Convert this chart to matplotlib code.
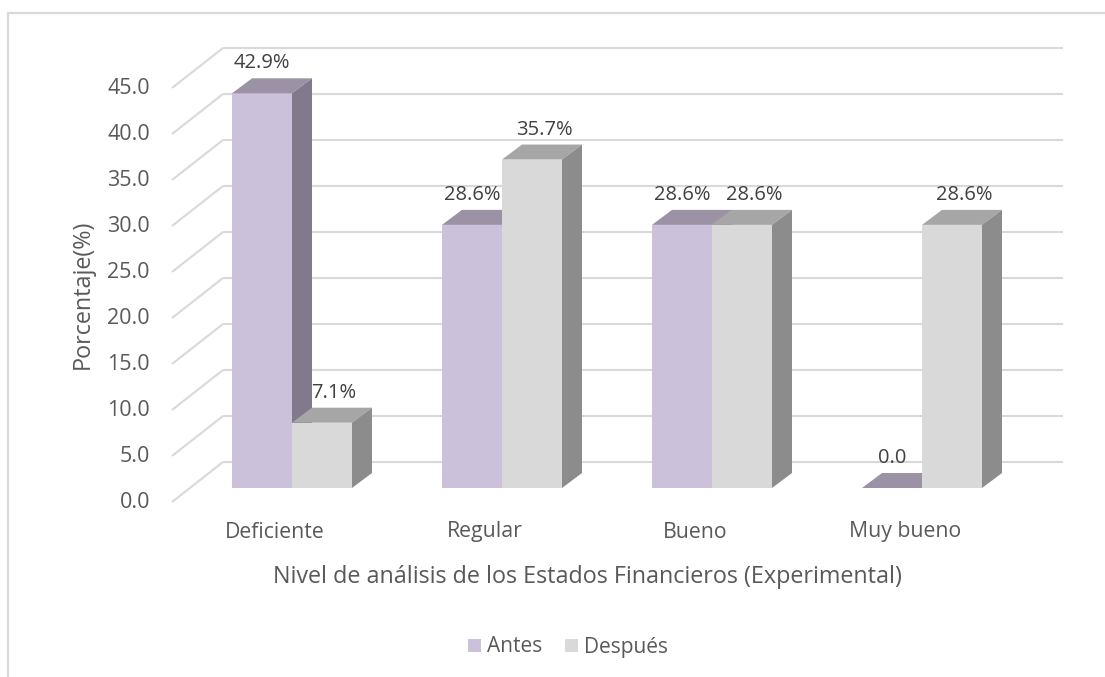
#!/usr/bin/env python3

import matplotlib.pyplot as plt
import numpy as np
from matplotlib.patches import Polygon, Rectangle

plt.rcParams['font.family'] = ['Open Sans', 'DejaVu Sans']

categorias = ["Deficiente", "Regular", "Bueno", "Muy bueno"]
series     = ["Antes", "Después"]
antes      = [42.9, 28.6, 28.6, 0.0]
despues    = [7.1, 35.7, 28.6, 28.6]
etiq_antes   = ["42.9%", "28.6%", "28.6%", "0.0"]
etiq_despues = ["7.1%", "35.7%", "28.6%", "28.6%"]
ticks      = np.arange(0, 50, 5)

# pixel scale of the 3D-ish frame (category step, value unit)
PX_X = 1.0 / 210
PX_Y = 1.0 / 9.2

colFront = ["#ccc1da", "#d9d9d9"]
colTop   = ["#9c92a6", "#a6a6a6"]
colSide  = ["#807a8c", "#8c8c8c"]
colGrid  = "#d9d9d9"
colText  = "#595959"
labShift = [0, 12]   # px, data label shift per series

W, H = 1105, 677
fig = plt.figure(figsize=(W/100, H/100), dpi=100)

# frame of the chart area (cut at right and bottom)
fig.patches.append(Rectangle((8/W, -0.1), 1.2, 1.1 - 13/H, transform=fig.transFigure,
                             fill=False, edgecolor=colGrid, linewidth=1.6))

# axes: x in category units (0 = first category), y in value units
x0px, x1px, y0px, y1px = 150, 1080, 30, 520
ax = fig.add_axes([x0px/W, 1 - y1px/H, (x1px - x0px)/W, (y1px - y0px)/H])
ax.set_xlim((x0px - 292) * PX_X, (x1px - 292) * PX_X)
ax.set_ylim((488 - y1px) * PX_Y, (488 - y0px) * PX_Y)
ax.axis("off")

# back wall and side wall gridlines
wallFront = (172 - 292) * PX_X
wallBack  = (223 - 292) * PX_X
wallRight = (1063 - 292) * PX_X
dyFront = -14 * PX_Y
dyBack  = 26 * PX_Y
for t in ticks:
    ax.plot([wallBack, wallRight], [t + dyBack, t + dyBack], color=colGrid, lw=1.5,
            zorder=1, solid_capstyle="butt")
    ax.plot([wallFront, wallBack], [t + dyFront, t + dyBack], color=colGrid, lw=1.5,
            zorder=1, solid_capstyle="butt")
    ax.text(wallFront - 22 * PX_X, t + dyFront, "%.1f" % t, ha="right", va="center",
            fontsize=15.5, color=colText)

# bars with depth
bw = 60 * PX_X
ddx, ddy = 20 * PX_X, 15 * PX_Y
xs = np.arange(len(categorias))
for s, (vals, labs) in enumerate([(antes, etiq_antes), (despues, etiq_despues)]):
    left = xs + (s - 1) * bw
    ax.bar(left, vals, width=bw, align="edge", color=colFront[s], zorder=3 + s,
           linewidth=0, label=series[s])
    for xl, v, lab in zip(left, vals, labs):
        xr = xl + bw
        ax.add_patch(Polygon([(xl, v), (xr, v), (xr + ddx, v + ddy), (xl + ddx, v + ddy)],
                             closed=True, facecolor=colTop[s], edgecolor="none", zorder=3 + s))
        if v > 0:
            ax.add_patch(Polygon([(xr, 0), (xr, v), (xr + ddx, v + ddy), (xr + ddx, ddy)],
                                 closed=True, facecolor=colSide[s], edgecolor="none",
                                 zorder=3 + s))
        ax.text(xl + bw/2 + labShift[s] * PX_X, v + ddy + 15 * PX_Y, lab, ha="center",
                va="center", fontsize=14.5, color="#404040", zorder=10)

# category labels
for x, c in zip(xs, categorias):
    ax.text(x - 17 * PX_X, -44 * PX_Y, c, ha="center", va="center", fontsize=15.3,
            color=colText)

fig.text(587/W, 1 - 577/H, "Nivel de análisis de los Estados Financieros (Experimental)",
         ha="center", va="center", fontsize=16.8, color=colText)
fig.text(83/W, 1 - 294/H, "Porcentaje(%)", ha="center", va="center", rotation=90,
         fontsize=16.8, color=colText)

leg = fig.legend(loc="center", bbox_to_anchor=(568/W, 1 - 647/H), ncol=2, frameon=False,
                 fontsize=15, handlelength=0.6, handleheight=0.6, handletextpad=0.3,
                 columnspacing=1.1, labelcolor=colText)

fig.savefig("out.png", dpi=100)
